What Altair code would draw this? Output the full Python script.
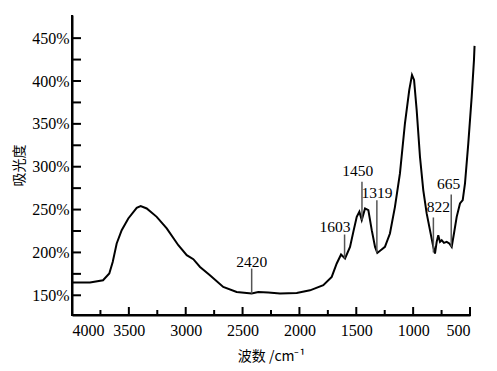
import altair as alt
import pandas as pd

# spectrum (wavenumber cm-1, absorbance %)
wavenumber = [4000, 3842, 3727, 3672, 3642, 3607, 3563, 3505, 3431, 3396, 3343, 3255,
              3167, 3065, 2991, 2933, 2874, 2787, 2670, 2552, 2420, 2362, 2274, 2171,
              2024, 1907, 1790, 1716, 1672, 1634, 1599, 1555, 1526, 1496, 1473, 1452,
              1423, 1394, 1364, 1335, 1315, 1277, 1248, 1204, 1160, 1116, 1072, 1034,
              1010, 992, 969, 940, 911, 881, 852, 823, 808, 793, 779, 764, 749, 729,
              705, 682, 661, 641, 617, 588, 564, 544, 515, 485, 465, 460]
absorbance = [164.8, 164.8, 167.5, 175.4, 188.9, 210.4, 226.0, 239.6, 252.0, 254.0, 251.3, 241.5,
              228.0, 208.4, 196.8, 192.1, 183.1, 173.4, 159.7, 153.9, 152.0, 153.9, 153.2, 152.0,
              152.7, 155.8, 161.7, 171.4, 187.1, 197.6, 192.9, 206.5, 224.0, 241.5, 247.4, 237.7,
              251.3, 249.3, 226.0, 206.5, 199.4, 203.4, 206.5, 222.1, 253.2, 292.2, 350.7, 389.6,
              407.1, 401.3, 366.2, 311.6, 272.7, 245.5, 226.0, 206.5, 198.7, 212.3, 220.1, 212.3,
              214.3, 211.1, 212.3, 210.4, 206.5, 222.1, 241.5, 257.2, 261.0, 280.6, 327.3, 381.8,
              424.7, 441.0]

# peak annotations
ann_label = ["2420", "1603", "1450", "1319", "822", "665"]
ann_wn = [2420, 1603, 1450, 1319, 822, 665]
ann_low = [152.0, 192.9, 237.7, 200.0, 200.0, 206.5]
ann_high = [181.2, 220.9, 282.4, 261.0, 240.8, 267.7]
ann_text_wn = [2420, 1687, 1488, 1318, 779, 687]
ann_text_y = [188.9, 229.1, 295.3, 268.9, 253.2, 279.7]

x_ticks = [4000, 3500, 3000, 2500, 2000, 1500, 1000, 500]
x_minor = [3750, 3250, 2750, 2250, 1750, 1250, 750]
y_ticks = [150, 200, 250, 300, 350, 400, 450]
y_minor = [175, 225, 275, 325, 375, 425]

SERIF = "Liberation Serif"
W, H = 398, 300
xscale = alt.Scale(domain=[500, 4000], reverse=True, nice=False, zero=False)
yscale = alt.Scale(domain=[127, 477], nice=False, zero=False)

spec = pd.DataFrame({"wn": wavenumber, "abs": absorbance})
ann = pd.DataFrame({"label": ann_label, "wn": ann_wn, "low": ann_low, "high": ann_high,
                    "twn": ann_text_wn, "ty": ann_text_y})
xt = pd.DataFrame({"v": x_ticks})
xm = pd.DataFrame({"v": x_minor})
yt = pd.DataFrame({"v": y_ticks + y_minor})

# axis lines (drawn first)
x_axis_line = alt.Chart(xt.head(1)).mark_rule(color="#000000", strokeWidth=2).encode(
    x=alt.value(-1), x2=alt.value(W + 1), y=alt.value(H))
y_axis_line = alt.Chart(xt.head(1)).mark_rule(color="#000000", strokeWidth=2).encode(
    x=alt.value(0), y=alt.value(0), y2=alt.value(H + 1))

line = alt.Chart(spec).mark_line(color="black", strokeWidth=2).encode(
    x=alt.X("wn:Q", scale=xscale,
            axis=alt.Axis(values=x_ticks, format="d", title="波数 /cm⁻¹", titleX=W / 2, titleY=41,
                          titleBaseline="middle", labelPadding=7)),
    y=alt.Y("abs:Q", scale=yscale,
            axis=alt.Axis(values=y_ticks, labelExpr="datum.value + '%'", title="吸光度",
                          titleX=-53, titleY=H / 2, titleBaseline="middle", titleAngle=-90,
                          labelPadding=3)),
)

rules = alt.Chart(ann).mark_rule(color="#555555", strokeWidth=1.5).encode(
    x=alt.X("wn:Q", scale=xscale), y=alt.Y("low:Q", scale=yscale), y2="high:Q")

texts = alt.Chart(ann).mark_text(font=SERIF, fontSize=15.5, color="black",
                                 baseline="middle", align="center").encode(
    x=alt.X("twn:Q", scale=xscale), y=alt.Y("ty:Q", scale=yscale), text="label:N")

xtick_major = alt.Chart(xt).mark_rule(color="black", strokeWidth=2).encode(
    x=alt.X("v:Q", scale=xscale), y=alt.value(H), y2=alt.value(H - 8))
xtick_minor = alt.Chart(xm).mark_rule(color="black", strokeWidth=2).encode(
    x=alt.X("v:Q", scale=xscale), y=alt.value(H), y2=alt.value(H - 5))
ytick = alt.Chart(yt).mark_rule(color="black", strokeWidth=2).encode(
    y=alt.Y("v:Q", scale=yscale), x=alt.value(0), x2=alt.value(9))

chart = alt.layer(x_axis_line, y_axis_line, line, rules, texts, xtick_major, xtick_minor,
                  ytick).properties(
    width=W, height=H,
    autosize=alt.AutoSizeParams(type="none"),
    padding={"left": 64, "top": 7, "right": 19, "bottom": 56},
).configure_view(strokeWidth=0).configure_axis(
    grid=False, domain=True, domainColor="#000000", domainWidth=2, tickSize=0,
    labelFont=SERIF, labelFontSize=16, labelColor="black",
    titleFont="Noto Sans CJK SC", titleFontSize=14, titleFontWeight="normal", titleColor="black",
)

chart.save("out.html", embed_options={"renderer": "svg", "actions": False})
